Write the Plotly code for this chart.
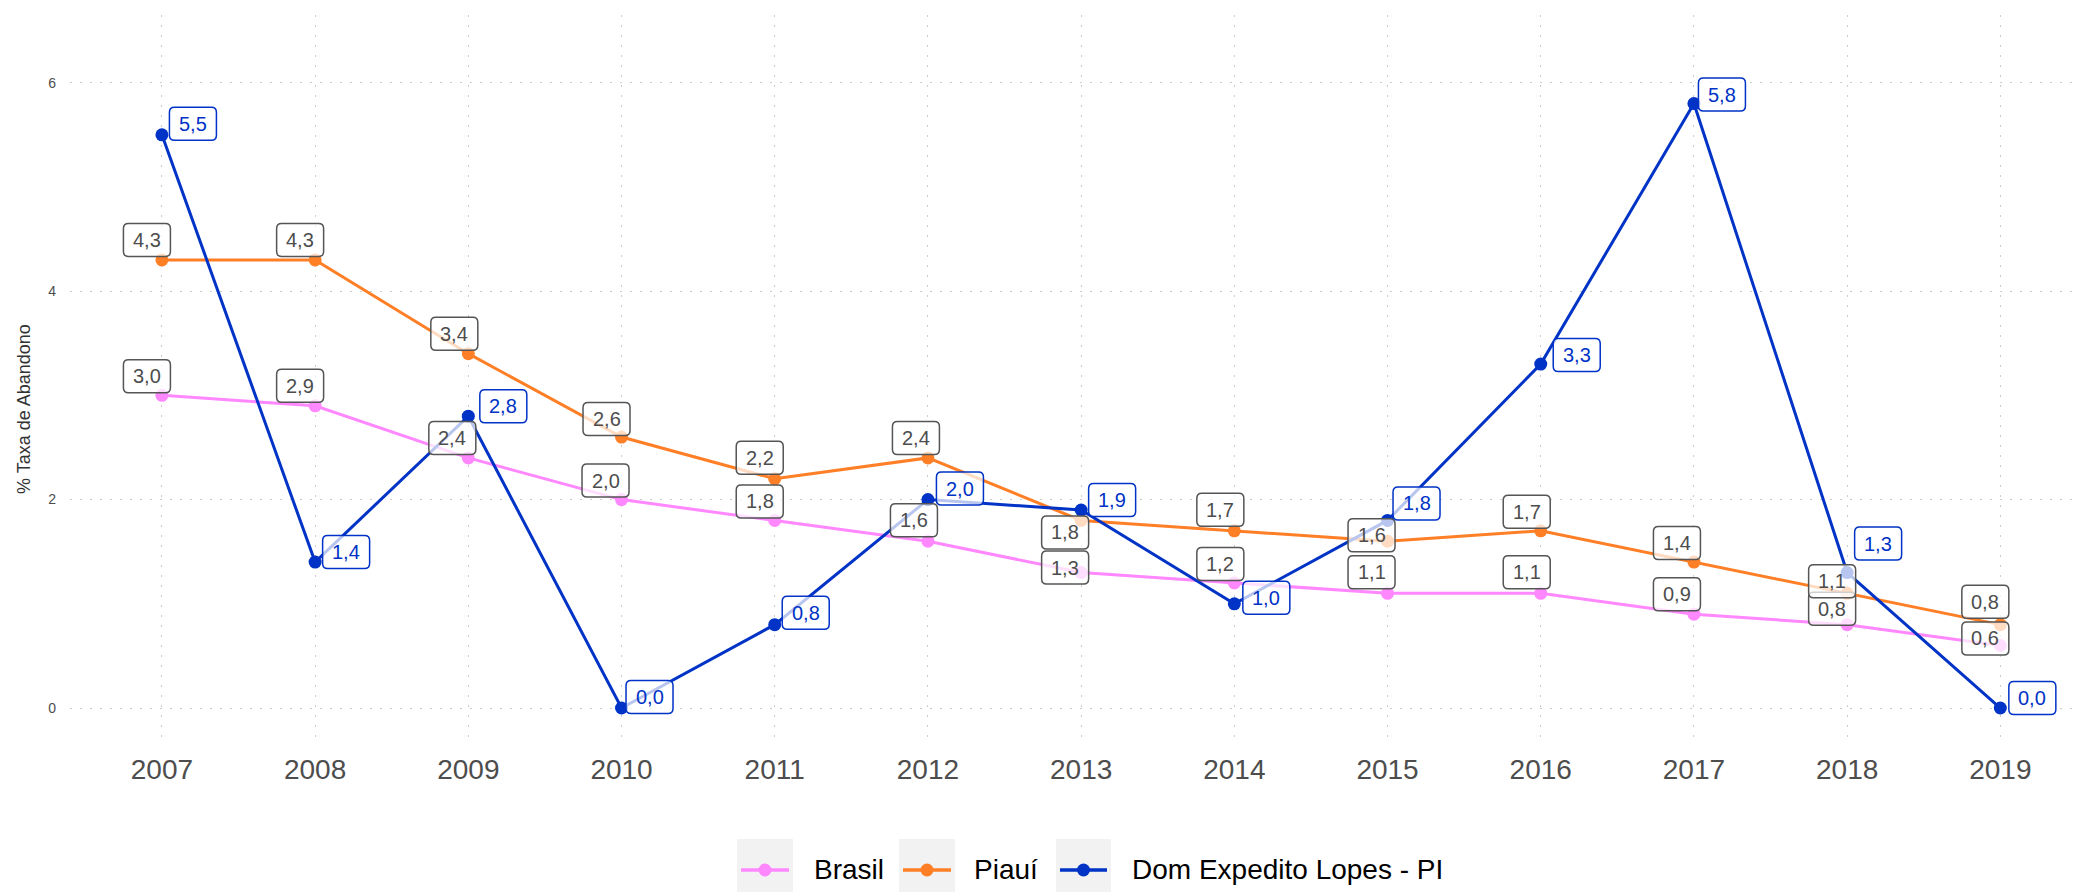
import plotly.graph_objects as go

# Taxa de abandono (%) por ano
anos = [2007, 2008, 2009, 2010, 2011, 2012, 2013, 2014, 2015, 2016, 2017, 2018, 2019]
brasil = [3.0, 2.9, 2.4, 2.0, 1.8, 1.6, 1.3, 1.2, 1.1, 1.1, 0.9, 0.8, 0.6]
piaui = [4.3, 4.3, 3.4, 2.6, 2.2, 2.4, 1.8, 1.7, 1.6, 1.7, 1.4, 1.1, 0.8]
dom_expedito = [5.5, 1.4, 2.8, 0.0, 0.8, 2.0, 1.9, 1.0, 1.8, 3.3, 5.8, 1.3, 0.0]

nomes = ["Brasil", "Piauí", "Dom Expedito Lopes - PI"]
cores = ["#ff88ff", "#ff7f27", "#0033c6"]

# label offsets (pixels) from each point, repelled to avoid overlaps
off_brasil = [(-15, 19), (-15, 20), (-16, 20), (-16, 19), (-15, 19), (-14, 21), (-16, 5),
              (-14, 19), (-16, 21), (-14, 21), (-17, 20), (-15, 16), (-15, 7)]
off_piaui = [(-15, 20), (-15, 20), (-14, 20), (-15, 18), (-15, 21), (-12, 20), (-16, -12),
             (-14, 21), (-16, 6), (-14, 19), (-17, 19), (-15, 12), (-15, 23)]
off_dom = [(31, 11), (31, 10), (35, 10), (28, 11), (31, 12), (32, 11), (31, 10),
           (32, 6), (29, 17), (36, 9), (28, 9), (31, 29), (32, 10)]

W, H = 2080, 892
ML, MR, MT, MB = 70, 0, 15, 152
PW, PH = W - ML - MR, H - MT - MB
FONT = "Liberation Sans, Arial, sans-serif"


def px(x):
    return (x - ML) / PW


def py(y):
    return (H - MB - y) / PH


def rounded_box(cx, cy, w=47, h=33, r=5):
    """SVG path of a rounded rectangle centred on (cx, cy), in pixels."""
    x0, x1 = cx - w / 2, cx + w / 2
    y0, y1 = cy - h / 2, cy + h / 2
    return (f"M {x0 + r},{y0} L {x1 - r},{y0} Q {x1},{y0} {x1},{y0 + r} "
            f"L {x1},{y1 - r} Q {x1},{y1} {x1 - r},{y1} L {x0 + r},{y1} "
            f"Q {x0},{y1} {x0},{y1 - r} L {x0},{y0 + r} Q {x0},{y0} {x0 + r},{y0} Z")


fig = go.Figure()

for nome, cor, vals in zip(nomes, cores, [brasil, piaui, dom_expedito]):
    fig.add_trace(go.Scatter(
        x=anos, y=vals, mode="lines+markers", name=nome,
        line=dict(color=cor, width=3), marker=dict(color=cor, size=13),
        showlegend=False,
    ))


def fmt(v):
    return f"{v:.1f}".replace(".", ",")


annotations = []
shapes = []
for vals, offs, txtcor, bcor in [
    (brasil, off_brasil, "#4d4d4d", "#555555"),
    (piaui, off_piaui, "#4d4d4d", "#555555"),
    (dom_expedito, off_dom, "#0033c6", "#0033c6"),
]:
    for ano, v, (dx, dy) in zip(anos, vals, offs):
        shapes.append(dict(
            type="path", xref="x", yref="y", xsizemode="pixel", ysizemode="pixel",
            xanchor=ano, yanchor=v, path=rounded_box(dx, dy),
            fillcolor="rgba(255,255,255,0.72)", line=dict(color=bcor, width=1.5),
            layer="above",
        ))
        annotations.append(dict(
            x=ano, y=v, xref="x", yref="y", text=fmt(v), showarrow=False,
            xshift=dx, yshift=dy,
            font=dict(family=FONT, size=20, color=txtcor),
        ))

# y axis title
annotations.append(dict(
    x=px(24), y=py(409), xref="paper", yref="paper", text="% Taxa de Abandono",
    textangle=-90, showarrow=False, xanchor="center", yanchor="middle",
    font=dict(family=FONT, size=18, color="#333333"),
))

# legend drawn by hand: grey key boxes, line+dot keys, labels
leg_boxes = [(737, 793), (899, 955), (1056, 1111)]
leg_text_x = [812, 972, 1130]
ly = 870
for (x0, x1), tx, nome, cor in zip(leg_boxes, leg_text_x, nomes, cores):
    shapes.append(dict(type="rect", xref="paper", yref="paper",
                       x0=px(x0), x1=px(x1), y0=py(839), y1=py(901),
                       fillcolor="#f2f2f2", line=dict(width=0), layer="below"))
    shapes.append(dict(type="line", xref="paper", yref="paper",
                       x0=px(x0 + 4), x1=px(x1 - 4), y0=py(ly), y1=py(ly),
                       line=dict(color=cor, width=3.5)))
    cx = (x0 + x1) / 2
    shapes.append(dict(type="circle", xref="paper", yref="paper",
                       x0=px(cx - 6.5), x1=px(cx + 6.5), y0=py(ly + 6.5), y1=py(ly - 6.5),
                       fillcolor=cor, line=dict(width=0)))
    annotations.append(dict(
        x=px(tx), y=py(ly), xref="paper", yref="paper", text=nome, showarrow=False,
        xanchor="left", yanchor="middle",
        font=dict(family=FONT, size=28, color="#000000"),
    ))

grid = dict(showgrid=True, gridcolor="#cccccc", griddash="2px,8px", gridwidth=1.2,
            zeroline=False, showline=False, ticks="")

fig.update_layout(
    width=W, height=H,
    margin=dict(l=ML, r=MR, t=MT, b=MB),
    paper_bgcolor="white", plot_bgcolor="white",
    font=dict(family=FONT),
    xaxis=dict(range=[2006.4, 2019.52], tickmode="array", tickvals=anos,
               ticktext=[str(a) for a in anos],
               tickfont=dict(size=28, color="#4d4d4d"), ticklabelstandoff=10, **grid),
    yaxis=dict(range=[-0.307, 6.65], tickmode="array", tickvals=[0, 2, 4, 6],
               tickfont=dict(size=14, color="#4d4d4d"), ticklabelstandoff=13, **grid),
    annotations=annotations, shapes=shapes, showlegend=False,
)

fig.write_html("out.html")
